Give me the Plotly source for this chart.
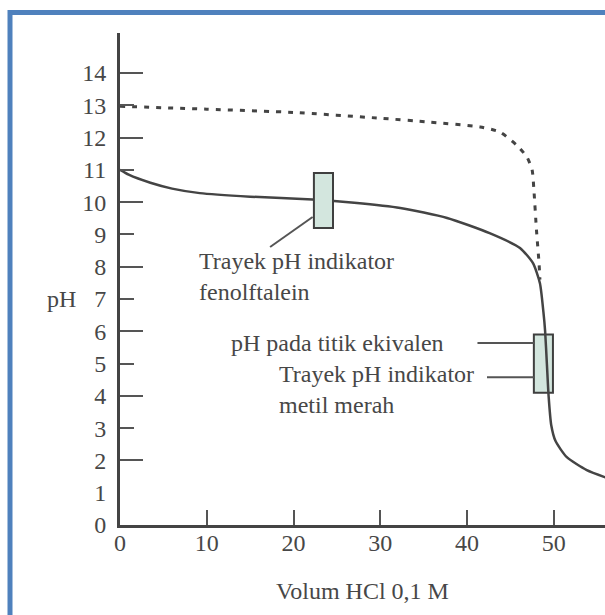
import plotly.graph_objects as go

# ---------------- data ----------------
# weak base (solid curve)
vol_weak = [0, 1, 3.5, 6, 9.2, 15, 22.2, 27, 32.3, 37.7, 42.6, 46.1, 47.6, 48.4,
            48.8, 49.0, 49.2, 49.4, 49.7, 50.2, 51.5, 53.8, 56]
ph_weak = [11.0, 10.85, 10.6, 10.42, 10.28, 10.17, 10.08, 9.98, 9.82, 9.51, 9.04,
           8.58, 8.11, 7.49, 6.6, 6.0, 5.0, 4.0, 3.1, 2.6, 2.1, 1.7, 1.47]
# strong base (dotted curve)
vol_strong = [0, 10, 20, 30, 35.7, 41.5, 43.8, 45.7, 46.9, 47.5, 47.7, 48.0, 48.3, 48.4]
ph_strong = [12.97, 12.88, 12.78, 12.6, 12.48, 12.33, 12.17, 11.77, 11.4, 11.0,
             10.4, 9.14, 8.1, 7.6]

# indicator ranges (boxes)
ind_names = ["fenolftalein", "metil merah"]
ind_volume = [23.45, 48.8]
ind_ph_low = [9.2, 4.1]
ind_ph_high = [10.9, 5.9]
ind_half_width = 1.1

y_tick_vals = list(range(0, 15))
y_tick_text = [str(v) for v in y_tick_vals]
y_long_ticks = [2, 4, 6, 8, 10, 12, 14]
y_short_ticks = [3, 5, 7, 9, 11, 13]
x_tick_vals = [0, 10, 20, 30, 40, 50]
x_tick_text = [str(v) for v in x_tick_vals]

x_title = "Volum HCl 0,1 M"
y_title = "pH"
label_php = "Trayek pH indikator<br>fenolftalein"
label_eq = "pH pada titik ekivalen"
label_mr = "Trayek pH indikator<br>metil merah"

# ---------------- styling ----------------
FONT = "Liberation Serif, Times New Roman, serif"
TXT = "#474747"
LINE = "#444444"
X_RANGE = [0, 55.9]
Y_RANGE = [0, 15.24]

fig = go.Figure()

fig.add_trace(go.Scatter(
    x=vol_strong, y=ph_strong, mode="lines",
    line=dict(color=LINE, width=3, dash="5px,7px", shape="spline", smoothing=0.6),
    hoverinfo="skip", showlegend=False))
fig.add_trace(go.Scatter(
    x=vol_weak, y=ph_weak, mode="lines",
    line=dict(color=LINE, width=2.5, shape="spline", smoothing=0.6),
    hoverinfo="skip", showlegend=False))
# empty traces to carry the tick-only overlay axes
fig.add_trace(go.Scatter(x=[], y=[], yaxis="y2", showlegend=False, hoverinfo="skip"))
fig.add_trace(go.Scatter(x=[], y=[], yaxis="y3", showlegend=False, hoverinfo="skip"))

# indicator boxes
layers = ["above", "below"]
for v, lo, hi, lay in zip(ind_volume, ind_ph_low, ind_ph_high, layers):
    fig.add_shape(type="rect", xref="x", yref="y",
                  x0=v - ind_half_width, x1=v + ind_half_width, y0=lo, y1=hi,
                  fillcolor="#d3e6de", line=dict(color="#3f3f3f", width=2), layer=lay)

# leader lines
leaders = [((22.2, 9.54), (17.3, 8.61)),
           ((41.2, 5.64), (47.7, 5.64)),
           ((42.3, 4.58), (47.7, 4.58))]
for (xa, ya), (xb, yb) in leaders:
    fig.add_shape(type="line", xref="x", yref="y", x0=xa, y0=ya, x1=xb, y1=yb,
                  line=dict(color="#555555", width=2))

# blue frame
fig.add_shape(type="rect", xref="paper", yref="paper",
              x0=-0.2268, x1=1.05, y0=-0.23, y1=1.0417,
              line=dict(color="#4f81bd", width=5), fillcolor="rgba(0,0,0,0)", layer="above")

afont = dict(family=FONT, size=24, color=TXT)
fig.add_annotation(x=8.9, y=7.71, xref="x", yref="y", text=label_php, showarrow=False,
                   xanchor="left", yanchor="middle", align="left", font=afont)
fig.add_annotation(x=12.6, y=5.64, xref="x", yref="y", text=label_eq, showarrow=False,
                   xanchor="left", yanchor="middle", align="left", font=afont)
fig.add_annotation(x=18.1, y=4.2, xref="x", yref="y", text=label_mr, showarrow=False,
                   xanchor="left", yanchor="middle", align="left", font=afont)
fig.add_annotation(x=-0.1196, y=7.0, xref="paper", yref="y", text=y_title, showarrow=False,
                   xanchor="center", yanchor="middle", font=dict(family=FONT, size=24, color=TXT))

tickfont = dict(family=FONT, size=24, color=TXT)
fig.update_layout(
    width=605, height=615,
    margin=dict(l=120, r=0, t=33, b=90),
    paper_bgcolor="white", plot_bgcolor="white",
    showlegend=False,
    xaxis=dict(range=X_RANGE, tickvals=x_tick_vals, ticktext=x_tick_text,
               ticks="inside", ticklen=15, tickwidth=2, tickcolor="#555555",
               showline=True, linewidth=3, linecolor=LINE, showgrid=False,
               zeroline=False, tickfont=tickfont, ticklabelstandoff=-6, automargin=False,
               title=dict(text=x_title, font=dict(family=FONT, size=24, color=TXT), standoff=28)),
    yaxis=dict(range=Y_RANGE, tickvals=y_tick_vals, ticktext=y_tick_text, ticks="",
               showline=True, linewidth=3, linecolor=LINE, showgrid=False, automargin=False,
               zeroline=False, tickfont=tickfont, ticklabelstandoff=6),
    yaxis2=dict(range=Y_RANGE, overlaying="y", side="left", anchor="x",
                tickvals=y_long_ticks, ticks="inside", ticklen=23, tickwidth=2,
                tickcolor="#555555", showticklabels=False, showgrid=False,
                zeroline=False, showline=False),
    yaxis3=dict(range=Y_RANGE, overlaying="y", side="left", anchor="x",
                tickvals=y_short_ticks, ticks="inside", ticklen=14, tickwidth=2,
                tickcolor="#555555", showticklabels=False, showgrid=False,
                zeroline=False, showline=False),
)

# remove the default page margin so the figure sits at the window's origin
fig.write_html("out.html",
               config={"displayModeBar": False},
               post_script="document.body.style.margin='0';document.body.style.overflow='hidden';")
